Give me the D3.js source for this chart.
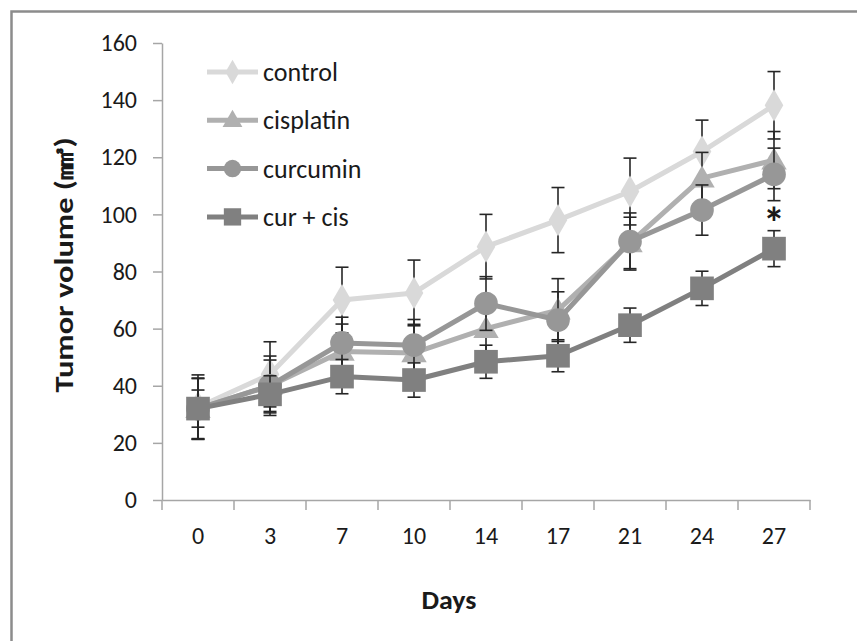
<!DOCTYPE html>
<html>
<head>
<meta charset="utf-8">
<script src="https://cdn.jsdelivr.net/npm/d3@7"></script>
<style>
  html, body { margin: 0; padding: 0; background: #fff; }
  svg { display: block; }
  text { font-family: Carlito, Calibri, Lato, "Noto Sans", sans-serif; fill: #1a1a1a; }
</style>
</head>
<body>
<svg id="chart" width="857" height="641"></svg>
<script>
// ---- data ----
const days = ["0", "3", "7", "10", "14", "17", "21", "24", "27"];
const yTicks = [0, 20, 40, 60, 80, 100, 120, 140, 160];
const seriesNames = ["control", "cisplatin", "curcumin", "cur + cis"];
const control      = [32.5, 44, 70, 72.5, 88.7, 98, 108, 122, 138.2];
const controlErr   = [11.3, 11.4, 11.5, 11.5, 11.3, 11.4, 11.7, 11, 11.8];
const cisplatin    = [32, 40, 52, 51.5, 60, 66.5, 90, 112.7, 119];
const cisplatinErr = [10.5, 9, 9.6, 10, 8, 11, 9, 9, 10];
const curcumin     = [32, 40, 55, 54.2, 68.8, 63, 90.5, 101.5, 114];
const curcuminErr  = [10.7, 10.4, 9, 9, 9.4, 9.9, 10, 8.8, 9.2];
const curcis       = [32, 37, 43.2, 42, 48.4, 50.5, 61.2, 74.1, 88];
const curcisErr    = [6.5, 6.5, 6, 6, 5.8, 5.6, 6, 6, 6.3];
const significance = ["", "", "", "", "", "", "", "", "*"];

const svg = d3.select("#chart");

// frame
svg.append("rect").attr("x", 11.5).attr("y", 11.5).attr("width", 900).attr("height", 700)
  .attr("fill", "none").attr("stroke", "#8c8c8c").attr("stroke-width", 2.5);

const x = d3.scaleBand().domain(days).range([162, 810]);
const y = d3.scaleLinear().domain([0, 160]).range([500, 43]);

// axes
const axisColor = "#a6a6a6";
const yAxis = svg.append("g").attr("transform", "translate(162,0)")
  .call(d3.axisLeft(y).tickValues(yTicks).tickSize(9).tickPadding(16).tickSizeOuter(0));
const xAxis = svg.append("g").attr("transform", "translate(0,500)")
  .call(d3.axisBottom(x).tickSize(0).tickPadding(27).tickSizeOuter(0));
[yAxis, xAxis].forEach(g => {
  g.selectAll("path, line").attr("stroke", axisColor).attr("stroke-width", 1.5);
  g.selectAll("text").style("font-family", "Carlito, Calibri, Lato, sans-serif")
    .style("font-size", "24px").attr("fill", "#1a1a1a");
});
// x band boundary ticks
const bounds = days.map(d => x(d)).concat([x.range()[1]]);
svg.append("g").selectAll("line").data(bounds).join("line")
  .attr("x1", d => d).attr("x2", d => d).attr("y1", 500).attr("y2", 510)
  .attr("stroke", axisColor).attr("stroke-width", 1.5);

// axis titles
svg.append("text").attr("transform", "translate(73,265) rotate(-90)")
  .attr("text-anchor", "middle").style("font-size", "27px").style("font-weight", "bold")
  .attr("textLength", 255).attr("lengthAdjust", "spacingAndGlyphs")
  .text("Tumor volume (㎣)");
svg.append("text").attr("x", 449).attr("y", 609).attr("text-anchor", "middle")
  .style("font-size", "27px").style("font-weight", "bold")
  .attr("textLength", 55).attr("lengthAdjust", "spacingAndGlyphs").text("Days");

const series = [
  { name: seriesNames[0], vals: control,   err: controlErr,   color: "#d9d9d9", marker: "diamond" },
  { name: seriesNames[1], vals: cisplatin, err: cisplatinErr, color: "#b0b0b0", marker: "triangle" },
  { name: seriesNames[2], vals: curcumin,  err: curcuminErr,  color: "#979797", marker: "circle" },
  { name: seriesNames[3], vals: curcis,    err: curcisErr,    color: "#808080", marker: "square" }
];

const cx = d => x(d) + x.bandwidth() / 2;
const symTypes = { diamond: d3.symbolDiamond, triangle: d3.symbolTriangle, circle: d3.symbolCircle, square: d3.symbolSquare };
const symSize = { diamond: 300, triangle: 280, circle: 440, square: 560 };
const legSize = { diamond: 170, triangle: 170, circle: 240, square: 300 };

const line = d3.line().x((d, i) => cx(days[i])).y(d => y(d));

series.forEach(s => {
  const g = svg.append("g");
  // error bars
  const eb = g.append("g").attr("stroke", "#262626").attr("stroke-width", 1.6);
  s.vals.forEach((v, i) => {
    const px = cx(days[i]);
    const top = y(v + s.err[i]), bot = y(v - s.err[i]);
    eb.append("line").attr("x1", px).attr("x2", px).attr("y1", top).attr("y2", bot);
    eb.append("line").attr("x1", px - 6.5).attr("x2", px + 6.5).attr("y1", top).attr("y2", top);
    eb.append("line").attr("x1", px - 6.5).attr("x2", px + 6.5).attr("y1", bot).attr("y2", bot);
  });
  g.append("path").datum(s.vals).attr("d", line).attr("fill", "none")
    .attr("stroke", s.color).attr("stroke-width", 5).attr("stroke-linejoin", "round");
  g.selectAll("path.m").data(s.vals).join("path").attr("class", "m")
    .attr("d", d3.symbol().type(symTypes[s.marker]).size(symSize[s.marker]))
    .attr("transform", (d, i) => `translate(${cx(days[i])},${y(d) + (s.marker === "triangle" ? 2 : 0)})`)
    .attr("fill", s.color);
});

// significance markers
svg.append("g").selectAll("text").data(significance).join("text")
  .attr("x", (d, i) => cx(days[i])).attr("y", 238).attr("text-anchor", "middle")
  .style("font-size", "44px").style("font-weight", "bold").attr("fill", "#1a1a1a")
  .text(d => d);

// legend
const leg = svg.append("g");
series.forEach((s, i) => {
  const ly = 72 + i * 48.3;
  leg.append("line").attr("x1", 207).attr("x2", 258).attr("y1", ly).attr("y2", ly)
    .attr("stroke", s.color).attr("stroke-width", 5);
  leg.append("path").attr("d", d3.symbol().type(symTypes[s.marker]).size(legSize[s.marker]))
    .attr("transform", `translate(232.5,${ly + (s.marker === "triangle" ? 1 : 0)})`).attr("fill", s.color);
  leg.append("text").attr("x", 263).attr("y", ly + 9).style("font-size", "26px").text(s.name);
});
</script>
</body>
</html>
